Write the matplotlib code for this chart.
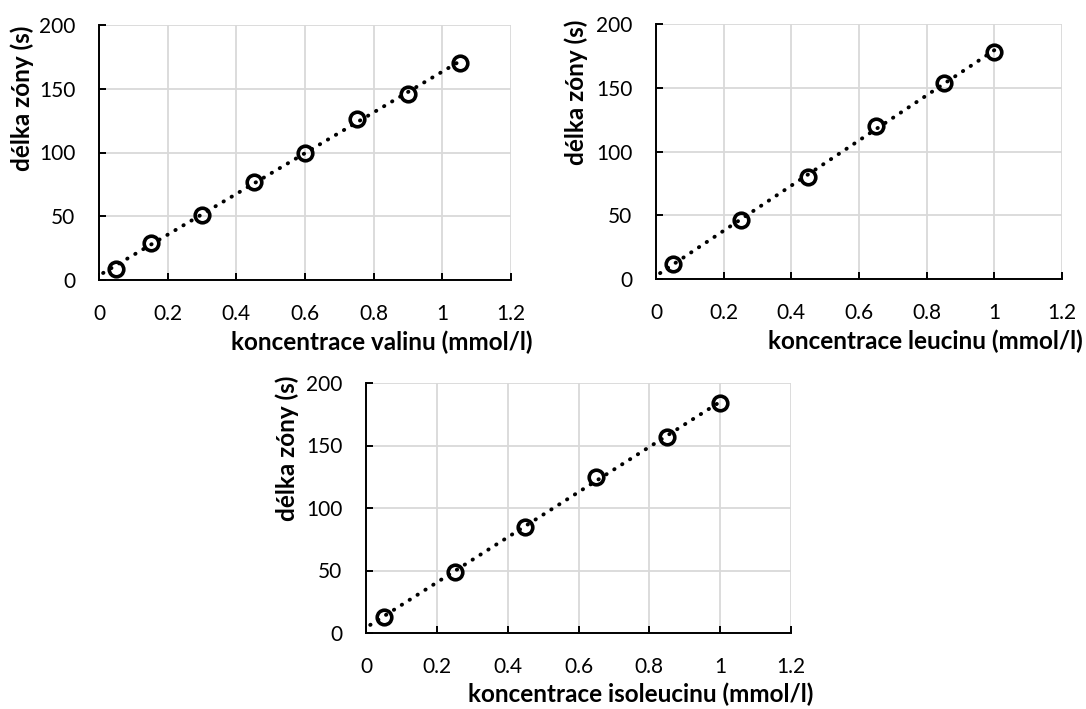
import numpy as np
import matplotlib.pyplot as plt

plt.rcParams['font.family'] = ['Lato', 'DejaVu Sans']

# data
val_x = [0.05, 0.15, 0.3, 0.45, 0.6, 0.75, 0.9, 1.05]
val_y = [9, 29, 51, 77, 100, 126, 146, 170]

leu_x = [0.05, 0.25, 0.45, 0.65, 0.85, 1.0]
leu_y = [12, 46, 80, 120, 154, 178]

ile_x = [0.05, 0.25, 0.45, 0.65, 0.85, 1.0]
ile_y = [13, 49, 85, 125, 157, 184]

x_ticks = [0, 0.2, 0.4, 0.6, 0.8, 1, 1.2]
x_tick_labels = ['0', '0.2', '0.4', '0.6', '0.8', '1', '1.2']
y_ticks = [0, 50, 100, 150, 200]

ylabel = 'délka zóny (s)'
xlabels = ['koncentrace valinu (mmol/l)',
           'koncentrace leucinu (mmol/l)',
           'koncentrace isoleucinu (mmol/l)']

W, H = 1086, 709
fig = plt.figure(figsize=(W / 100, H / 100), dpi=100)

# axes boxes in pixels: left, top, right, bottom
boxes = [(99, 25, 511, 280), (656, 24, 1062, 279), (366, 383, 791, 633)]
ylab_pos = [(-0.187, 0.714), (-0.197, 0.733), (-0.186, 0.74)]
datasets = [(val_x, val_y), (leu_x, leu_y), (ile_x, ile_y)]

for (l, t, r, b), (xs, ys), xl, yp in zip(boxes, datasets, xlabels, ylab_pos):
    ax = fig.add_axes([l / W, 1 - b / H, (r - l) / W, (b - t) / H])
    # linear trendline (Excel style)
    k, q = np.polyfit(xs, ys, 1)
    tx = np.array([0.012, max(xs)])
    ax.plot(tx, k * tx + q, color='black', lw=2.8, linestyle=(0, (0.1, 2.3)),
            dash_capstyle='round', zorder=2)
    ax.plot(xs, ys, 'o', ms=10.5, mfc='none', mec='black', mew=2.6, zorder=3)

    ax.set_xlim(0, 1.2)
    ax.set_ylim(0, 200)
    ax.set_xticks(x_ticks)
    ax.set_xticklabels(x_tick_labels)
    ax.set_yticks(y_ticks)
    ax.grid(True, color='#d9d9d9', lw=1.3)
    ax.set_axisbelow(True)
    for s in ['top', 'right']:
        ax.spines[s].set_visible(False)
    for s in ['left', 'bottom']:
        ax.spines[s].set_color('black')
        ax.spines[s].set_linewidth(1.4)
    ax.tick_params(direction='in', length=5, width=1.4, labelsize=15)
    ax.tick_params(axis='x', pad=17)
    ax.tick_params(axis='y', pad=17)
    ax.set_xlabel(xl, fontsize=17.5, fontweight='bold', ha='right', va='center')
    ax.xaxis.set_label_coords(1.052, -0.245)
    ax.set_ylabel(ylabel, fontsize=17.5, fontweight='bold', va='center')
    ax.yaxis.set_label_coords(yp[0], yp[1])

fig.savefig('out.png', dpi=100)
